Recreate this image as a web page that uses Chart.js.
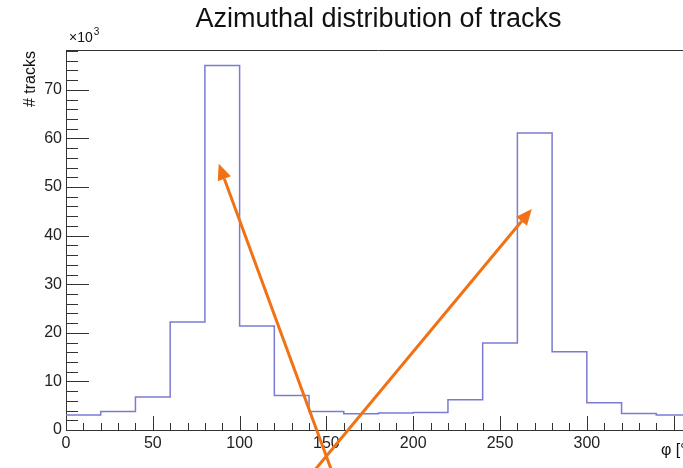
<!DOCTYPE html>
<html>
<head>
<meta charset="utf-8">
<title>Azimuthal distribution of tracks</title>
<script src="https://cdn.jsdelivr.net/npm/chart.js@4.4.1/dist/chart.umd.min.js"></script>
<style>
  html, body { margin: 0; padding: 0; background: #fff; overflow: hidden; }
  #wrap { width: 683px; height: 468px; overflow: hidden; }
  canvas { display: block; }
</style>
</head>
<body>
<div id="wrap"><canvas id="phiChart" width="757" height="468"></canvas></div>
<script>
// phi histogram, 20 degree bins, counts in units of 10^3 tracks
const binLowEdges = [0, 20, 40, 60, 80, 100, 120, 140, 160, 180, 200, 220, 240, 260, 280, 300, 320, 340];
const binWidth = 20;
const trackCounts = [3.1, 3.8, 6.8, 22.2, 75.0, 21.4, 7.1, 3.8, 3.35, 3.5, 3.6, 6.2, 17.9, 61.1, 16.1, 5.6, 3.4, 3.1];
const xTickLabels = [0, 50, 100, 150, 200, 250, 300, 350];
const yTickLabels = [0, 10, 20, 30, 40, 50, 60, 70];

// orange arrows, [phi, tracks/10^3] of tip and tail
const arrowTips = [[88, 54.8], [268.3, 45.5]];
const arrowTails = [[155.4, -10.7], [137.6, -10.7]];

const FONT = "'Liberation Sans', Arial, Helvetica, sans-serif";
const AXIS_COLOR = "#333";

// histogram outline: one point per bin low edge plus the closing edge
const histPoints = binLowEdges.map((e, i) => ({ x: e, y: trackCounts[i] }));
histPoints.push({ x: binLowEdges[binLowEdges.length - 1] + binWidth, y: trackCounts[trackCounts.length - 1] });

const rootStyle = {
    id: "rootStyle",
    afterDatasetsDraw(chart) {
        const { ctx, chartArea: a, scales: { x, y } } = chart;
        ctx.save();
        ctx.strokeStyle = AXIS_COLOR;
        ctx.lineWidth = 1;
        ctx.beginPath();
        // top edge of the frame
        ctx.moveTo(a.left, a.top + 0.5);
        ctx.lineTo(a.right, a.top + 0.5);
        // y ticks drawn inside the frame
        for (let v = 0; v <= y.max; v += 2) {
            const py = Math.round(y.getPixelForValue(v)) + 0.5;
            const len = v % 10 === 0 ? 23 : 12;
            ctx.moveTo(a.left, py);
            ctx.lineTo(a.left + len, py);
        }
        // x ticks
        for (let v = 0; v <= x.max; v += 10) {
            const px = Math.round(x.getPixelForValue(v)) + 0.5;
            const len = v % 50 === 0 ? 14 : 7;
            ctx.moveTo(px, a.bottom);
            ctx.lineTo(px, a.bottom - len);
        }
        ctx.stroke();
        ctx.restore();
    },
    afterDraw(chart) {
        const { ctx, chartArea: a, scales: { x, y } } = chart;
        ctx.save();
        ctx.fillStyle = "#111";

        // y axis title
        ctx.save();
        ctx.translate(35, a.top + 1);
        ctx.rotate(-Math.PI / 2);
        ctx.font = "16px " + FONT;
        ctx.textAlign = "right";
        ctx.textBaseline = "alphabetic";
        ctx.fillText("# tracks", 0, 0);
        ctx.restore();

        // exponent above the y axis
        ctx.font = "14px " + FONT;
        ctx.textAlign = "left";
        ctx.textBaseline = "alphabetic";
        ctx.fillText("\u00d710", 69, 42);
        const w = ctx.measureText("\u00d710").width;
        ctx.font = "10px " + FONT;
        ctx.fillText("3", 69 + w + 1, 35);

        // x axis title
        ctx.font = "16px " + FONT;
        ctx.textAlign = "right";
        ctx.fillText("\u03c6 [\u00b0]", a.right, 455);

        // arrows
        ctx.strokeStyle = "#f07214";
        ctx.fillStyle = "#f07214";
        ctx.lineWidth = 3;
        arrowTips.forEach((tip, i) => {
            const tx = x.getPixelForValue(tip[0]), ty = y.getPixelForValue(tip[1]);
            const sx = x.getPixelForValue(arrowTails[i][0]), sy = y.getPixelForValue(arrowTails[i][1]);
            const ang = Math.atan2(ty - sy, tx - sx);
            const headLen = 16, headHalf = 7;
            const bx = tx - headLen * Math.cos(ang), by = ty - headLen * Math.sin(ang);
            ctx.beginPath();
            ctx.moveTo(sx, sy);
            ctx.lineTo(bx, by);
            ctx.stroke();
            ctx.beginPath();
            ctx.moveTo(tx, ty);
            ctx.lineTo(bx + headHalf * Math.sin(ang), by - headHalf * Math.cos(ang));
            ctx.lineTo(bx - headHalf * Math.sin(ang), by + headHalf * Math.cos(ang));
            ctx.closePath();
            ctx.fill();
        });
        ctx.restore();
    }
};

new Chart(document.getElementById("phiChart"), {
    type: "line",
    data: {
        datasets: [{
            label: "tracks",
            data: histPoints,
            stepped: "before",
            borderColor: "#7b7bd2",
            borderWidth: 1.5,
            pointRadius: 0,
            fill: false
        }]
    },
    options: {
        responsive: false,
        animation: false,
        layout: { padding: { left: 0, right: 66, top: 0, bottom: 0 } },
        plugins: {
            legend: { display: false },
            tooltip: { enabled: false },
            title: {
                display: true,
                fullSize: false,
                text: "Azimuthal distribution of tracks",
                color: "#111",
                font: { family: FONT, size: 27, weight: "normal", lineHeight: 1.2 },
                padding: { top: 3, bottom: 14.6 }
            }
        },
        scales: {
            x: {
                type: "linear",
                min: 0,
                max: 360,
                grid: { display: false, drawTicks: false },
                border: { display: true, color: AXIS_COLOR, width: 1 },
                ticks: {
                    stepSize: 50,
                    autoSkip: false,
                    maxRotation: 0,
                    padding: 4,
                    color: "#222",
                    font: { family: FONT, size: 16 },
                    callback: v => xTickLabels.includes(v) ? String(v) : ""
                },
                afterFit: s => { s.height = 38; }
            },
            y: {
                min: 0,
                max: 78.2,
                grid: { display: false, drawTicks: false },
                border: { display: true, color: AXIS_COLOR, width: 1 },
                ticks: {
                    stepSize: 10,
                    padding: 4,
                    color: "#222",
                    font: { family: FONT, size: 16 },
                    callback: v => yTickLabels.includes(v) ? String(v) : ""
                },
                afterFit: s => { s.width = 66; }
            }
        }
    },
    plugins: [rootStyle]
});
</script>
</body>
</html>
